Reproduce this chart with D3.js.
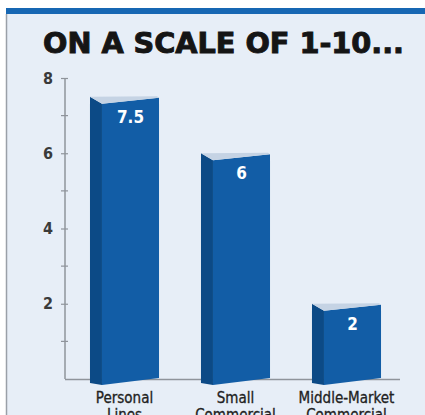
<!DOCTYPE html>
<html>
<head>
<meta charset="utf-8">
<script src="https://cdnjs.cloudflare.com/ajax/libs/d3/7.8.5/d3.min.js"></script>
<style>
  html, body { margin: 0; padding: 0; background: #fff; }
  svg { display: block; }
  .narrow { font-family: "DejaVu Sans Condensed", "Liberation Sans Narrow", "Liberation Sans", sans-serif; }
</style>
</head>
<body>
<script>
// chart data
var categories = ["Personal|Lines", "Small|Commercial", "Middle-Market|Commercial"];
var scores = [7.5, 6, 2];
var valueLabels = ["7.5", "6", "2"];
var majorTicks = [2, 4, 6, 8];
var minorTicks = [1, 3, 5, 7];

var width = 425, height = 415;

var svg = d3.select("body").append("svg")
    .attr("width", width)
    .attr("height", height);

// panel background + frame
svg.append("rect")
    .attr("x", 6).attr("y", 8)
    .attr("width", width - 6).attr("height", height - 8)
    .style("fill", "#e7eef7");
svg.append("rect")
    .attr("x", 6).attr("y", 8)
    .attr("width", width - 6).attr("height", 6)
    .style("fill", "#1767b3");
svg.append("line")
    .attr("x1", 6.5).attr("x2", 6.5)
    .attr("y1", 14).attr("y2", height)
    .style("stroke", "#9aa0a8")
    .style("stroke-width", 1.5);

// title
svg.append("text")
    .attr("class", "narrow")
    .attr("x", 43).attr("y", 53)
    .attr("textLength", 361)
    .attr("lengthAdjust", "spacingAndGlyphs")
    .style("font-size", "29px")
    .style("font-weight", "bold")
    .style("fill", "#151515")
    .style("stroke", "#151515")
    .style("stroke-width", 0.9)
    .text("ON A SCALE OF 1-10...");

// scales
var y = d3.scaleLinear()
    .domain([0, 8])
    .range([379, 78]);

var x = d3.scaleBand()
    .domain(categories)
    .range([69, 402])
    .paddingInner(0.378)
    .paddingOuter(0.189);

var axisX = 65;

// baseline
svg.append("line")
    .attr("x1", axisX).attr("x2", 400)
    .attr("y1", y(0) + 0.5).attr("y2", y(0) + 0.5)
    .style("stroke", "#8f949b")
    .style("stroke-width", 1.5);

// y axis
var yAxis = svg.append("g")
    .attr("transform", "translate(" + axisX + ",0)")
    .call(d3.axisLeft(y)
        .tickValues(majorTicks)
        .tickSize(4)
        .tickPadding(8));

yAxis.select(".domain").remove();
yAxis.append("line")
    .attr("x1", 0).attr("x2", 0)
    .attr("y1", y(0)).attr("y2", y(8))
    .style("stroke", "#8f949b")
    .style("stroke-width", 1.5);
yAxis.selectAll(".tick line")
    .attr("x1", 3)
    .style("stroke", "#8f949b")
    .style("stroke-width", 1.2);
yAxis.selectAll(".tick text")
    .attr("class", "narrow")
    .style("font-size", "16px")
    .style("font-weight", "bold")
    .style("fill", "#3a3a3a");

yAxis.selectAll(".minor")
    .data(minorTicks)
    .enter().append("line")
    .attr("class", "minor")
    .attr("x1", -4).attr("x2", 3)
    .attr("y1", function(d) { return y(d); })
    .attr("y2", function(d) { return y(d); })
    .style("stroke", "#8f949b")
    .style("stroke-width", 1.2);

// 3d-ish bars
var side = 12;
var bars = svg.append("g")
    .selectAll("g")
    .data(scores)
    .enter().append("g");

function barX(i) { return x(categories[i]); }

// left (dark) face
bars.append("path")
    .attr("d", function(d, i) {
        var x0 = barX(i), t = y(d), b = y(0);
        return "M" + x0 + "," + t + "L" + (x0 + side) + "," + (t + 7) +
            "L" + (x0 + side) + "," + (b + 6) + "L" + x0 + "," + (b + 4) + "Z";
    })
    .style("fill", "#0c4a86");

// front face
bars.append("path")
    .attr("d", function(d, i) {
        var x0 = barX(i) + side, x1 = barX(i) + x.bandwidth(), t = y(d), b = y(0);
        return "M" + x0 + "," + (t + 7) + "L" + x1 + "," + (t + 1) +
            "L" + x1 + "," + (b - 1) + "L" + x0 + "," + (b + 6) + "Z";
    })
    .style("fill", "#125da6");

// top face
bars.append("path")
    .attr("d", function(d, i) {
        var x0 = barX(i), x1 = barX(i) + x.bandwidth(), t = y(d);
        return "M" + x0 + "," + t + "L" + (x1 - 2) + "," + (t - 0.5) +
            "L" + x1 + "," + (t + 1) + "L" + (x0 + side) + "," + (t + 7) + "Z";
    })
    .style("fill", "#c5d3e4");

// value labels
bars.append("text")
    .attr("class", "narrow")
    .attr("x", function(d, i) { return barX(i) + (side + x.bandwidth()) / 2; })
    .attr("y", function(d) { return y(d) + 26; })
    .attr("text-anchor", "middle")
    .style("font-size", "17px")
    .style("font-weight", "bold")
    .style("fill", "#ffffff")
    .text(function(d, i) { return valueLabels[i]; });

// category labels
var cats = svg.append("g")
    .selectAll("text")
    .data(categories)
    .enter().append("text")
    .attr("class", "narrow")
    .attr("text-anchor", "middle")
    .attr("x", function(d) { return x(d) + x.bandwidth() / 2; })
    .attr("y", 403)
    .style("font-size", "15px")
    .style("fill", "#222")
    .style("stroke", "#222")
    .style("stroke-width", 0.3);

cats.selectAll("tspan")
    .data(function(d) { return d.split("|"); })
    .enter().append("tspan")
    .attr("x", function() { return d3.select(this.parentNode).attr("x"); })
    .attr("dy", function(d, i) { return i === 0 ? 0 : 17; })
    .text(function(d) { return d; });
</script>
</body>
</html>
